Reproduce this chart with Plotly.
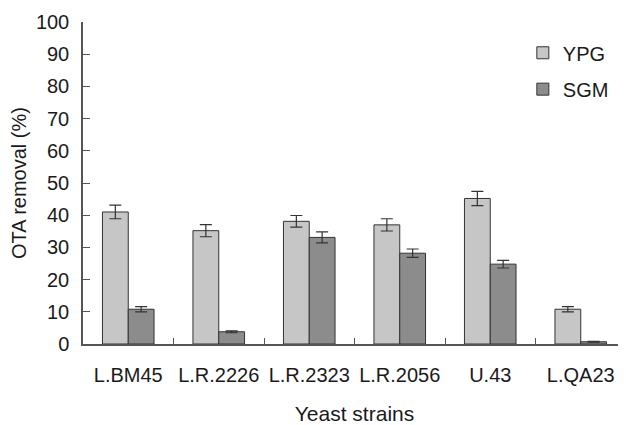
import plotly.graph_objects as go

strains = ["L.BM45", "L.R.2226", "L.R.2323", "L.R.2056", "U.43", "L.QA23"]
ypg = [41, 35.2, 38.1, 37, 45.2, 10.8]
ypg_err = [2.1, 1.9, 1.8, 1.9, 2.2, 0.8]
sgm = [10.8, 3.8, 33.1, 28.2, 24.8, 0.7]
sgm_err = [0.8, 0.3, 1.7, 1.3, 1.2, 0.1]

FONT = "Liberation Sans, Arial, sans-serif"
EDGE = "#333333"
FS = 20

fig = go.Figure()
fig.add_trace(go.Bar(
    name="YPG", x=strains, y=ypg,
    marker=dict(color="#c6c6c6", line=dict(color=EDGE, width=1)),
    error_y=dict(type="data", array=ypg_err, color=EDGE, thickness=1.2, width=6),
    legend="legend",
))
fig.add_trace(go.Bar(
    name="SGM", x=strains, y=sgm,
    marker=dict(color="#8c8c8c", line=dict(color=EDGE, width=1)),
    error_y=dict(type="data", array=sgm_err, color=EDGE, thickness=1.2, width=6),
    legend="legend2",
))

fig.update_layout(
    width=618, height=417,
    margin=dict(l=75, r=0, t=14, b=81),
    paper_bgcolor="white", plot_bgcolor="white",
    barmode="group", bargap=0.43, bargroupgap=0,
    font=dict(family=FONT, size=FS, color="#1a1a1a"),
    showlegend=True,
    legend=dict(x=0.81, y=0.965, xanchor="left", yanchor="top",
                bgcolor="rgba(0,0,0,0)", font=dict(size=FS),
                itemwidth=30),
    legend2=dict(x=0.81, y=0.852, xanchor="left", yanchor="top",
                 bgcolor="rgba(0,0,0,0)", font=dict(size=FS),
                 itemwidth=30),
    xaxis=dict(
        showline=True, linecolor="#555555", linewidth=1.5,
        ticks="inside", tickson="boundaries", ticklen=6, tickcolor="#555555",
        tickfont=dict(size=FS), showgrid=False, ticklabelstandoff=12,
        title=dict(text="Yeast strains", font=dict(size=21), standoff=25),
    ),
    yaxis=dict(
        range=[0, 100], dtick=10,
        showline=True, linecolor="#555555", linewidth=1.5,
        ticks="inside", ticklen=7, tickcolor="#555555",
        tickfont=dict(size=FS), showgrid=False, zeroline=False,
        ticklabelstandoff=8,
        title=dict(text="OTA removal (%)", font=dict(size=FS), standoff=6),
    ),
)

fig.write_html("out.html")
